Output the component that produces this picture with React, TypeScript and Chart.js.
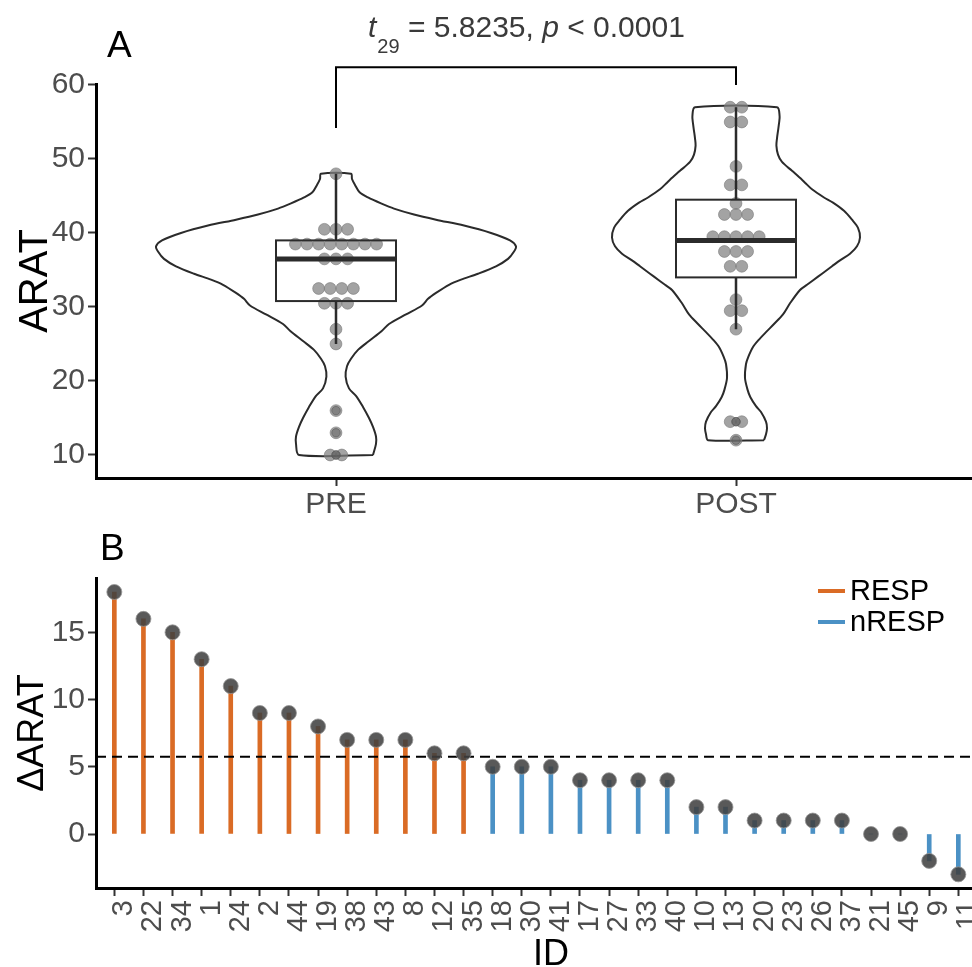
import React, { useEffect, useRef } from 'react';
import { Chart, registerables } from 'chart.js';

Chart.register(...registerables);

const FONT = "'Liberation Sans', Arial, Helvetica, sans-serif";

// ---------- Panel A data ----------
const groups = ['PRE', 'POST'];
const preScores = [48, 40.5, 40.5, 40.5, 38.5, 38.5, 38.5, 38.5, 38.5, 38.5, 38.5, 38.5, 36.5, 36.5, 36.5,
  32.5, 32.5, 32.5, 32.5, 30.5, 30.5, 30.5, 27, 25, 16, 13, 10, 10];
const postScores = [57, 57, 55, 55, 49, 46.5, 46.5, 44, 42.5, 42.5, 42.5, 39.5, 39.5, 39.5, 39.5, 39.5,
  37.5, 37.5, 37.5, 35.5, 35.5, 31, 29.5, 29.5, 27, 14.5, 14.5, 12];
const boxLow = [25, 27];
const boxQ1 = [30.8, 34];
const boxMedian = [36.5, 39];
const boxQ3 = [39, 44.5];
const boxHigh = [48, 57];
// violin outline: levels (ARAT) and half-widths (in category units)
const preViolinLevels = [10, 11.5, 12.5, 13.8, 15, 16.5, 18, 19, 20.6, 22, 23, 24.2, 25.4, 26.8, 27.7, 29, 30.2,
  31.1, 31.9, 33, 33.7, 34.5, 35.5, 36.5, 37.5, 38.2, 39, 40, 41, 41.8, 42.5, 43.3, 44, 44.8, 45.5, 46.5, 47.3, 48];
const preViolinHalf = [0.0925, 0.1, 0.1, 0.0925, 0.0825, 0.0675, 0.05, 0.0325, 0.024, 0.0275, 0.0375, 0.055,
  0.0825, 0.115, 0.1325, 0.175, 0.215, 0.23, 0.25, 0.2825, 0.3125, 0.355, 0.4, 0.43, 0.445, 0.45, 0.435, 0.3875,
  0.32, 0.25, 0.195, 0.145, 0.1125, 0.08, 0.059, 0.0475, 0.04, 0.0375];
const postViolinLevels = [12, 12.8, 13.6, 14.5, 15.8, 16.6, 17.8, 18.8, 20.4, 22.3, 23.3, 24.6, 25.6, 26.6, 27.7,
  29, 30.5, 32.3, 33, 34.1, 34.9, 35.5, 36.3, 37.2, 38.2, 39.4, 40.7, 41.8, 43, 44.1, 44.8, 45.9, 46.8, 47.2, 48.4,
  49.6, 50.6, 51.8, 52.8, 53.8, 54.8, 55.8, 57];
const postViolinHalf = [0.07, 0.075, 0.0775, 0.075, 0.0625, 0.05, 0.036, 0.029, 0.0225, 0.025, 0.031, 0.0425,
  0.0575, 0.075, 0.095, 0.1175, 0.135, 0.16, 0.1775, 0.205, 0.225, 0.24, 0.26, 0.285, 0.3025, 0.31, 0.305, 0.29,
  0.27, 0.2425, 0.22, 0.19, 0.1725, 0.165, 0.14, 0.115, 0.105, 0.101, 0.1025, 0.105, 0.1075, 0.109, 0.1025];
const tDf = '29';
const tValue = '5.8235';
const pValue = '0.0001';
const bracketTop = 62.4;
const bracketLeftEnd = 54.2;
const bracketRightEnd = 60;

// ---------- Panel B data ----------
const ids = ['3', '22', '34', '1', '24', '2', '44', '19', '38', '43', '8', '12', '35', '18', '30', '41', '17', '27',
  '33', '40', '10', '13', '20', '23', '26', '37', '21', '45', '9', '11'];
const deltas = [18, 16, 15, 13, 11, 9, 9, 8, 7, 7, 7, 6, 6, 5, 5, 5, 4, 4, 4, 4, 2, 2, 1, 1, 1, 1, 0, 0, -2, -3];
const responseGroup = ['RESP', 'RESP', 'RESP', 'RESP', 'RESP', 'RESP', 'RESP', 'RESP', 'RESP', 'RESP', 'RESP',
  'RESP', 'RESP', 'nRESP', 'nRESP', 'nRESP', 'nRESP', 'nRESP', 'nRESP', 'nRESP', 'nRESP', 'nRESP', 'nRESP',
  'nRESP', 'nRESP', 'nRESP', 'nRESP', 'nRESP', 'nRESP', 'nRESP'];
const legendLabels = ['RESP', 'nRESP'];
const mcid = 5.75;
const yTicksA = [10, 20, 30, 40, 50, 60];
const yTicksB = [0, 5, 10, 15];

const COLORS: Record<string, string> = { RESP: '#DA6B25', nRESP: '#4B91C5' };

function stackDots(values: number[], center: number, spacing: number) {
  const counts = new Map<number, number>();
  values.forEach((v) => counts.set(v, (counts.get(v) || 0) + 1));
  const seen = new Map<number, number>();
  return values.map((v) => {
    const n = counts.get(v)!;
    const i = seen.get(v) || 0;
    seen.set(v, i + 1);
    return { x: center + (i - (n - 1) / 2) * spacing, y: v };
  });
}

function violinPoints(center: number, levels: number[], half: number[]) {
  const right = levels.map((y, i) => ({ x: center + half[i], y }));
  const left = levels.map((y, i) => ({ x: center - half[i], y })).reverse();
  return [...right, ...left, right[0]];
}

function outliers(values: number[], i: number, center: number) {
  return values.filter((v) => v < boxLow[i] || v > boxHigh[i]).map((v) => ({ x: center, y: v }));
}

const gridCommon = { display: true, drawOnChartArea: false, drawTicks: true, tickLength: 8, tickColor: '#333333', tickWidth: 2, offset: false };
const borderCommon = { display: true, color: '#000000', width: 3 };

const noPadX = (h: number) => (s: any) => { s.height = h; s.paddingLeft = 0; s.paddingRight = 0; };
const noPadY = (w: number) => (s: any) => { s.width = w; s.paddingTop = 0; s.paddingBottom = 0; };

const panelAPlugin = {
  id: 'panelA',
  afterDatasetsDraw(chart: any) {
    const { ctx, scales } = chart;
    const x = scales.x, y = scales.y;
    ctx.save();
    ctx.strokeStyle = '#2b2b2b';
    groups.forEach((_, i) => {
      const cx = x.getPixelForValue(i + 1);
      const hw = x.getPixelForValue(i + 1 + 0.15) - cx;
      const yLow = y.getPixelForValue(boxLow[i]);
      const yQ1 = y.getPixelForValue(boxQ1[i]);
      const yMed = y.getPixelForValue(boxMedian[i]);
      const yQ3 = y.getPixelForValue(boxQ3[i]);
      const yHigh = y.getPixelForValue(boxHigh[i]);
      ctx.lineWidth = 2.5;
      ctx.beginPath();
      ctx.moveTo(cx, yHigh); ctx.lineTo(cx, yQ3);
      ctx.moveTo(cx, yQ1); ctx.lineTo(cx, yLow);
      ctx.stroke();
      ctx.lineWidth = 2;
      ctx.strokeRect(cx - hw, yQ3, 2 * hw, yQ1 - yQ3);
      ctx.lineWidth = 5;
      ctx.beginPath();
      ctx.moveTo(cx - hw, yMed); ctx.lineTo(cx + hw, yMed);
      ctx.stroke();
    });
    ctx.restore();
  },
  afterDraw(chart: any) {
    const { ctx, scales } = chart;
    const x = scales.x, y = scales.y;
    ctx.save();
    // significance bracket
    const x1 = x.getPixelForValue(1), x2 = x.getPixelForValue(2);
    ctx.strokeStyle = '#000';
    ctx.lineWidth = 2;
    ctx.beginPath();
    ctx.moveTo(x1, y.getPixelForValue(bracketLeftEnd));
    ctx.lineTo(x1, y.getPixelForValue(bracketTop));
    ctx.lineTo(x2, y.getPixelForValue(bracketTop));
    ctx.lineTo(x2, y.getPixelForValue(bracketRightEnd));
    ctx.stroke();
    // stat label
    ctx.fillStyle = '#3a3a3a';
    ctx.textAlign = 'left';
    ctx.textBaseline = 'alphabetic';
    const base = 37;
    let px = 368;
    ctx.font = `italic 30px ${FONT}`;
    ctx.fillText('t', px, base); px += ctx.measureText('t').width + 1;
    ctx.font = `20px ${FONT}`;
    ctx.fillText(tDf, px, base + 16); px += ctx.measureText(tDf).width;
    ctx.font = `30px ${FONT}`;
    const s1 = ` = ${tValue}, `;
    ctx.fillText(s1, px, base); px += ctx.measureText(s1).width;
    ctx.font = `italic 30px ${FONT}`;
    ctx.fillText('p', px, base); px += ctx.measureText('p').width;
    ctx.font = `30px ${FONT}`;
    ctx.fillText(` < ${pValue}`, px, base);
    // panel tag
    ctx.fillStyle = '#000';
    ctx.font = `37px ${FONT}`;
    ctx.fillText('A', 107, 57);
    // y title
    ctx.translate(47, (chart.chartArea.top + chart.chartArea.bottom) / 2);
    ctx.rotate(-Math.PI / 2);
    ctx.textAlign = 'center';
    ctx.font = `40px ${FONT}`;
    ctx.fillText('ARAT', 0, 0);
    ctx.restore();
  },
};

const panelBPlugin = {
  id: 'panelB',
  afterDraw(chart: any) {
    const { ctx } = chart;
    ctx.save();
    ctx.fillStyle = '#000';
    ctx.textAlign = 'left';
    ctx.textBaseline = 'alphabetic';
    ctx.font = `37px ${FONT}`;
    ctx.fillText('B', 100, 30);
    ctx.textAlign = 'center';
    ctx.font = `36px ${FONT}`;
    ctx.fillText('ID', 551, 435);
    // legend
    legendLabels.forEach((lab, i) => {
      const ly = 61 + i * 31;
      ctx.strokeStyle = COLORS[lab];
      ctx.lineWidth = 4;
      ctx.beginPath();
      ctx.moveTo(818, ly); ctx.lineTo(845, ly);
      ctx.stroke();
      ctx.fillStyle = '#000';
      ctx.textAlign = 'left';
      ctx.textBaseline = 'middle';
      ctx.font = `29px ${FONT}`;
      ctx.fillText(lab, 850, ly + 1);
    });
    // y title
    ctx.textBaseline = 'alphabetic';
    ctx.translate(43, (chart.chartArea.top + chart.chartArea.bottom) / 2);
    ctx.rotate(-Math.PI / 2);
    ctx.textAlign = 'center';
    ctx.font = `36px ${FONT}`;
    ctx.fillText('\u0394ARAT', 0, 0);
    ctx.restore();
  },
};

export default function App() {
  const refA = useRef<HTMLCanvasElement>(null);
  const refB = useRef<HTMLCanvasElement>(null);

  useEffect(() => {
    const dotSpacing = 0.029;
    const chartA = new Chart(refA.current!, {
      type: 'scatter',
      data: {
        datasets: [
          {
            data: violinPoints(1, preViolinLevels, preViolinHalf), showLine: true, borderColor: '#2b2b2b',
            borderWidth: 2, pointRadius: 0, tension: 0.3, fill: false, order: 5, clip: false,
          } as any,
          {
            data: violinPoints(2, postViolinLevels, postViolinHalf), showLine: true, borderColor: '#2b2b2b',
            borderWidth: 2, pointRadius: 0, tension: 0.3, fill: false, order: 5, clip: false,
          } as any,
          {
            data: [...stackDots(preScores, 1, dotSpacing), ...stackDots(postScores, 2, dotSpacing)],
            pointRadius: 5.9, backgroundColor: 'rgba(128,128,128,0.72)', borderColor: 'rgba(120,120,120,0.6)',
            borderWidth: 1, order: 4, clip: false,
          } as any,
          {
            data: [...outliers(preScores, 0, 1), ...outliers(postScores, 1, 2)],
            pointRadius: 4.2, backgroundColor: 'rgba(90,90,90,0.45)', borderColor: 'rgba(90,90,90,0.6)',
            borderWidth: 1, order: 3, clip: false,
          } as any,
        ],
      },
      options: {
        responsive: false,
        animation: false,
        events: [],
        layout: { autoPadding: false, padding: { top: 84, left: 0, right: 0, bottom: 0 } },
        plugins: { legend: { display: false }, tooltip: { enabled: false } },
        scales: {
          x: {
            type: 'linear', min: 0.4, max: 2.59,
            afterBuildTicks: (s: any) => { s.ticks = groups.map((_, i) => ({ value: i + 1 })); },
            afterFit: noPadX(52),
            ticks: {
              callback: (v: any) => groups[Number(v) - 1] ?? '', font: { family: FONT, size: 30 }, color: '#4D4D4D',
              padding: 1, autoSkip: false, maxRotation: 0,
            },
            grid: gridCommon,
            border: borderCommon,
          },
          y: {
            type: 'linear', min: 6.89, max: 60.135,
            afterBuildTicks: (s: any) => { s.ticks = yTicksA.map((v) => ({ value: v })); },
            afterFit: noPadY(96),
            ticks: { font: { family: FONT, size: 30 }, color: '#4D4D4D', padding: 3 },
            grid: gridCommon,
            border: borderCommon,
          },
        },
      } as any,
      plugins: [panelAPlugin],
    });

    const pts = ids.map((_, i) => ({ x: i + 1, y: deltas[i] }));
    const chartB = new Chart(refB.current!, {
      type: 'bar',
      data: {
        datasets: [
          {
            type: 'bar', data: pts, backgroundColor: responseGroup.map((g) => COLORS[g]), barThickness: 4,
            borderWidth: 0, order: 3,
          } as any,
          {
            type: 'line', data: [{ x: 0.37, y: mcid }, { x: 30.47, y: mcid }], borderColor: '#000', borderWidth: 2,
            borderDash: [10, 6], pointRadius: 0, fill: false, order: 2,
          } as any,
          {
            type: 'scatter', data: pts, pointRadius: 7.5, backgroundColor: 'rgba(64,64,64,0.87)',
            borderColor: 'rgba(150,150,150,0.8)', borderWidth: 1, order: 1, clip: false,
          } as any,
        ],
      },
      options: {
        responsive: false,
        animation: false,
        events: [],
        layout: { autoPadding: false, padding: { top: 48, left: 0, right: 0, bottom: 0 } },
        plugins: { legend: { display: false }, tooltip: { enabled: false } },
        scales: {
          x: {
            type: 'linear', min: 0.37, max: 30.47, offset: false,
            afterBuildTicks: (s: any) => { s.ticks = ids.map((_, i) => ({ value: i + 1 })); },
            afterFit: noPadX(79),
            ticks: {
              callback: (v: any) => ids[Number(v) - 1] ?? '', font: { family: FONT, size: 29 }, color: '#4D4D4D',
              padding: 4, autoSkip: false, minRotation: 90, maxRotation: 90, labelOffset: 10,
            },
            grid: gridCommon,
            border: borderCommon,
          },
          y: {
            type: 'linear', min: -4.016, max: 19.04,
            afterBuildTicks: (s: any) => { s.ticks = yTicksB.map((v) => ({ value: v })); },
            afterFit: noPadY(96),
            ticks: { font: { family: FONT, size: 30 }, color: '#4D4D4D', padding: 3 },
            grid: gridCommon,
            border: borderCommon,
          },
        },
      } as any,
      plugins: [panelBPlugin],
    });

    return () => {
      chartA.destroy();
      chartB.destroy();
    };
  }, []);

  return (
    <div style={{ position: 'absolute', left: 0, top: 0, width: 972, height: 967, background: '#fff' }}>
      <canvas ref={refA} width={972} height={530} style={{ display: 'block', width: 972, height: 530 }} />
      <canvas ref={refB} width={972} height={437} style={{ display: 'block', width: 972, height: 437 }} />
    </div>
  );
}
